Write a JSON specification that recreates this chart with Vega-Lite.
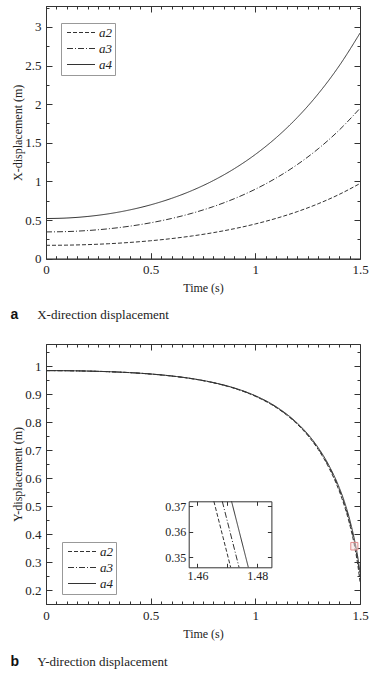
{
  "$schema": "https://vega.github.io/schema/vega-lite/v6.json",
  "autosize": {"type": "pad"},
  "padding": {"left": 9, "top": 1, "right": 5, "bottom": 5},
  "background": "white",
  "datasets": {
    "xdisp": [
      {"t": 0.0, "v": 0.1733, "s": "a2"}, {"t": 0.1, "v": 0.1755, "s": "a2"}, {"t": 0.2, "v": 0.1823, "s": "a2"}, {"t": 0.3, "v": 0.1938, "s": "a2"},
      {"t": 0.4, "v": 0.2104, "s": "a2"}, {"t": 0.5, "v": 0.2323, "s": "a2"}, {"t": 0.6, "v": 0.2603, "s": "a2"}, {"t": 0.7, "v": 0.2950, "s": "a2"},
      {"t": 0.8, "v": 0.3374, "s": "a2"}, {"t": 0.9, "v": 0.3885, "s": "a2"}, {"t": 1.0, "v": 0.4496, "s": "a2"}, {"t": 1.1, "v": 0.5224, "s": "a2"},
      {"t": 1.2, "v": 0.6086, "s": "a2"}, {"t": 1.3, "v": 0.7107, "s": "a2"}, {"t": 1.4, "v": 0.8311, "s": "a2"}, {"t": 1.5, "v": 0.9730, "s": "a2"},
      {"t": 0.0, "v": 0.3466, "s": "a3"}, {"t": 0.1, "v": 0.3510, "s": "a3"}, {"t": 0.2, "v": 0.3646, "s": "a3"}, {"t": 0.3, "v": 0.3876, "s": "a3"},
      {"t": 0.4, "v": 0.4208, "s": "a3"}, {"t": 0.5, "v": 0.4646, "s": "a3"}, {"t": 0.6, "v": 0.5206, "s": "a3"}, {"t": 0.7, "v": 0.5900, "s": "a3"},
      {"t": 0.8, "v": 0.6748, "s": "a3"}, {"t": 0.9, "v": 0.7770, "s": "a3"}, {"t": 1.0, "v": 0.8992, "s": "a3"}, {"t": 1.1, "v": 1.0448, "s": "a3"},
      {"t": 1.2, "v": 1.2172, "s": "a3"}, {"t": 1.3, "v": 1.4214, "s": "a3"}, {"t": 1.4, "v": 1.6622, "s": "a3"}, {"t": 1.5, "v": 1.9460, "s": "a3"},
      {"t": 0.0, "v": 0.5199, "s": "a4"}, {"t": 0.1, "v": 0.5265, "s": "a4"}, {"t": 0.2, "v": 0.5469, "s": "a4"}, {"t": 0.3, "v": 0.5814, "s": "a4"},
      {"t": 0.4, "v": 0.6312, "s": "a4"}, {"t": 0.5, "v": 0.6969, "s": "a4"}, {"t": 0.6, "v": 0.7809, "s": "a4"}, {"t": 0.7, "v": 0.8850, "s": "a4"},
      {"t": 0.8, "v": 1.0122, "s": "a4"}, {"t": 0.9, "v": 1.1655, "s": "a4"}, {"t": 1.0, "v": 1.3488, "s": "a4"}, {"t": 1.1, "v": 1.5672, "s": "a4"},
      {"t": 1.2, "v": 1.8258, "s": "a4"}, {"t": 1.3, "v": 2.1321, "s": "a4"}, {"t": 1.4, "v": 2.4933, "s": "a4"}, {"t": 1.5, "v": 2.9190, "s": "a4"}
    ],
    "ydisp": [
      {"t": 0.0, "v": 0.9849, "s": "a2"}, {"t": 0.1, "v": 0.9845, "s": "a2"}, {"t": 0.2, "v": 0.9832, "s": "a2"}, {"t": 0.3, "v": 0.9810, "s": "a2"},
      {"t": 0.4, "v": 0.9776, "s": "a2"}, {"t": 0.5, "v": 0.9726, "s": "a2"}, {"t": 0.6, "v": 0.9655, "s": "a2"}, {"t": 0.7, "v": 0.9555, "s": "a2"},
      {"t": 0.8, "v": 0.9414, "s": "a2"}, {"t": 0.9, "v": 0.9215, "s": "a2"}, {"t": 1.0, "v": 0.8932, "s": "a2"}, {"t": 1.1, "v": 0.8527, "s": "a2"},
      {"t": 1.2, "v": 0.7935, "s": "a2"}, {"t": 1.25, "v": 0.7535, "s": "a2"}, {"t": 1.3, "v": 0.7035, "s": "a2"}, {"t": 1.35, "v": 0.6399, "s": "a2"},
      {"t": 1.4, "v": 0.5561, "s": "a2"}, {"t": 1.425, "v": 0.5028, "s": "a2"}, {"t": 1.45, "v": 0.4377, "s": "a2"}, {"t": 1.475, "v": 0.3538, "s": "a2"},
      {"t": 1.49, "v": 0.2874, "s": "a2"}, {"t": 1.5, "v": 0.2308, "s": "a2"},
      {"t": 0.0, "v": 0.9849, "s": "a3"}, {"t": 0.1, "v": 0.9845, "s": "a3"}, {"t": 0.2, "v": 0.9832, "s": "a3"}, {"t": 0.3, "v": 0.9810, "s": "a3"},
      {"t": 0.4, "v": 0.9777, "s": "a3"}, {"t": 0.5, "v": 0.9727, "s": "a3"}, {"t": 0.6, "v": 0.9657, "s": "a3"}, {"t": 0.7, "v": 0.9558, "s": "a3"},
      {"t": 0.8, "v": 0.9418, "s": "a3"}, {"t": 0.9, "v": 0.9222, "s": "a3"}, {"t": 1.0, "v": 0.8943, "s": "a3"}, {"t": 1.1, "v": 0.8542, "s": "a3"},
      {"t": 1.2, "v": 0.7955, "s": "a3"}, {"t": 1.25, "v": 0.7562, "s": "a3"}, {"t": 1.3, "v": 0.7068, "s": "a3"}, {"t": 1.35, "v": 0.6443, "s": "a3"},
      {"t": 1.4, "v": 0.5625, "s": "a3"}, {"t": 1.425, "v": 0.5105, "s": "a3"}, {"t": 1.45, "v": 0.4467, "s": "a3"}, {"t": 1.475, "v": 0.3651, "s": "a3"},
      {"t": 1.49, "v": 0.3021, "s": "a3"}, {"t": 1.5, "v": 0.2478, "s": "a3"},
      {"t": 0.0, "v": 0.9849, "s": "a4"}, {"t": 0.1, "v": 0.9845, "s": "a4"}, {"t": 0.2, "v": 0.9833, "s": "a4"}, {"t": 0.3, "v": 0.9811, "s": "a4"},
      {"t": 0.4, "v": 0.9778, "s": "a4"}, {"t": 0.5, "v": 0.9729, "s": "a4"}, {"t": 0.6, "v": 0.9659, "s": "a4"}, {"t": 0.7, "v": 0.9561, "s": "a4"},
      {"t": 0.8, "v": 0.9422, "s": "a4"}, {"t": 0.9, "v": 0.9228, "s": "a4"}, {"t": 1.0, "v": 0.8952, "s": "a4"}, {"t": 1.1, "v": 0.8556, "s": "a4"},
      {"t": 1.2, "v": 0.7976, "s": "a4"}, {"t": 1.25, "v": 0.7587, "s": "a4"}, {"t": 1.3, "v": 0.7099, "s": "a4"}, {"t": 1.35, "v": 0.6484, "s": "a4"},
      {"t": 1.4, "v": 0.5685, "s": "a4"}, {"t": 1.425, "v": 0.5178, "s": "a4"}, {"t": 1.45, "v": 0.4550, "s": "a4"}, {"t": 1.475, "v": 0.3757, "s": "a4"},
      {"t": 1.49, "v": 0.3159, "s": "a4"}, {"t": 1.5, "v": 0.2640, "s": "a4"}
    ],
    "inset": [
      {"t": 1.4655, "v": 0.372, "s": "a2"}, {"t": 1.4711, "v": 0.346, "s": "a2"},
      {"t": 1.4683, "v": 0.372, "s": "a3"}, {"t": 1.4739, "v": 0.346, "s": "a3"},
      {"t": 1.4714, "v": 0.372, "s": "a4"}, {"t": 1.4770, "v": 0.346, "s": "a4"}
    ],
    "box": [{"x1": 1.456, "x2": 1.490, "y1": 0.344, "y2": 0.371}]
  },
  "vconcat": [
    {
      "width": 314,
      "height": 252.7,
      "resolve": {"axis": {"x": "independent", "y": "independent"}},
      "layer": [
        {
          "data": {"name": "xdisp"},
          "mark": {"type": "line", "color": "#333", "strokeWidth": 1, "interpolate": "monotone"},
          "encoding": {
            "x": {"field": "t", "type": "quantitative",
              "scale": {"domain": [0, 1.5], "nice": false, "zero": false},
              "axis": {"orient": "bottom", "title": "Time (s)", "titlePadding": 3, "format": "~g",
                "values": [0,0.05,0.1,0.15,0.2,0.25,0.3,0.35,0.4,0.45,0.5,0.55,0.6,0.65,0.7,0.75,0.8,0.85,0.9,0.95,1,1.05,1.1,1.15,1.2,1.25,1.3,1.35,1.4,1.45,1.5],
                "labelExpr": "abs(datum.value*2-round(datum.value*2))<1e-6 ? datum.label : ''",
                "tickSize": {"condition": {"test": "abs(datum.value*2-round(datum.value*2))<1e-6", "value": -6}, "value": -3},
                "labelPadding": 11, "labelOverlap": false}},
            "y": {"field": "v", "type": "quantitative",
              "scale": {"domain": [0, 3.27], "nice": false, "zero": false},
              "axis": {"orient": "left", "title": "X-displacement (m)", "titlePadding": 0, "format": "~g",
                "values": [0,0.25,0.5,0.75,1,1.25,1.5,1.75,2,2.25,2.5,2.75,3,3.25],
                "labelExpr": "abs(datum.value*2-round(datum.value*2))<1e-6 ? datum.label : ''",
                "tickSize": {"condition": {"test": "abs(datum.value*2-round(datum.value*2))<1e-6", "value": -6}, "value": -3},
                "labelPadding": 11, "labelOverlap": false}},
            "strokeDash": {"field": "s", "type": "nominal",
              "scale": {"domain": ["a2", "a3", "a4"], "range": [[4, 2], [6, 2, 1, 2], [1, 0]]},
              "legend": {"title": null, "orient": "none", "legendX": 15, "legendY": 17,
                "symbolType": "M-4,0H4", "symbolSize": 49, "symbolOffset": 10.5, "symbolStrokeWidth": 1, "symbolStrokeColor": "#333",
                "labelFont": "Liberation Serif", "labelFontStyle": "italic", "labelFontSize": 13, "labelColor": "#222",
                "strokeColor": "#999", "fillColor": "white", "padding": 3, "rowPadding": 2, "labelOffset": 11.5}}
          }
        },
        {
          "data": {"name": "xdisp"},
          "mark": {"type": "point", "opacity": 0},
          "encoding": {
            "x": {"field": "t", "type": "quantitative",
              "scale": {"domain": [0, 1.5], "nice": false, "zero": false},
              "axis": {"orient": "top", "labels": false, "domain": false,
                "title": "a", "titleFont": "Liberation Sans", "titleFontWeight": "bold", "titleFontSize": 14, "titleColor": "#111",
                "titleAngle": 0, "titleAlign": "left", "titleBaseline": "alphabetic", "titleX": -36, "titleY": 312,
                "values": [0,0.05,0.1,0.15,0.2,0.25,0.3,0.35,0.4,0.45,0.5,0.55,0.6,0.65,0.7,0.75,0.8,0.85,0.9,0.95,1,1.05,1.1,1.15,1.2,1.25,1.3,1.35,1.4,1.45,1.5],
                "tickSize": {"condition": {"test": "abs(datum.value*2-round(datum.value*2))<1e-6", "value": -6}, "value": -3}}},
            "y": {"field": "v", "type": "quantitative",
              "scale": {"domain": [0, 3.27], "nice": false, "zero": false},
              "axis": {"orient": "right", "labels": false, "domain": false,
                "title": "X-direction displacement", "titleFont": "Liberation Serif", "titleFontWeight": "normal", "titleFontSize": 13, "titleColor": "#222",
                "titleAngle": 0, "titleAlign": "left", "titleBaseline": "alphabetic", "titleX": -323.3, "titleY": 312,
                "values": [0,0.25,0.5,0.75,1,1.25,1.5,1.75,2,2.25,2.5,2.75,3,3.25],
                "tickSize": {"condition": {"test": "abs(datum.value*2-round(datum.value*2))<1e-6", "value": -6}, "value": -3}}}
          }
        }
      ]
    },
    {
      "width": 314,
      "height": 260,
      "resolve": {"scale": {"x": "independent", "y": "independent"}, "axis": {"x": "independent", "y": "independent"}},
      "layer": [
        {
          "data": {"name": "ydisp"},
          "mark": {"type": "line", "color": "#333", "strokeWidth": 1, "interpolate": "monotone"},
          "encoding": {
            "x": {"field": "t", "type": "quantitative",
              "scale": {"domain": [0, 1.5], "nice": false, "zero": false},
              "axis": {"orient": "bottom", "title": "Time (s)", "titlePadding": 3, "format": "~g",
                "values": [0,0.05,0.1,0.15,0.2,0.25,0.3,0.35,0.4,0.45,0.5,0.55,0.6,0.65,0.7,0.75,0.8,0.85,0.9,0.95,1,1.05,1.1,1.15,1.2,1.25,1.3,1.35,1.4,1.45,1.5],
                "labelExpr": "abs(datum.value*2-round(datum.value*2))<1e-6 ? datum.label : ''",
                "tickSize": {"condition": {"test": "abs(datum.value*2-round(datum.value*2))<1e-6", "value": -6}, "value": -3},
                "labelPadding": 11, "labelOverlap": false}},
            "y": {"field": "v", "type": "quantitative",
              "scale": {"domain": [0.151, 1.08], "nice": false, "zero": false},
              "axis": {"orient": "left", "title": "Y-displacement (m)", "titlePadding": 0, "format": "~g",
                "values": [0.15,0.2,0.25,0.3,0.35,0.4,0.45,0.5,0.55,0.6,0.65,0.7,0.75,0.8,0.85,0.9,0.95,1,1.05],
                "labelExpr": "abs(datum.value*10-round(datum.value*10))<1e-6 ? datum.label : ''",
                "tickSize": {"condition": {"test": "abs(datum.value*10-round(datum.value*10))<1e-6", "value": -6}, "value": -3},
                "labelPadding": 11, "labelOverlap": false}},
            "strokeDash": {"field": "s", "type": "nominal",
              "scale": {"domain": ["a2", "a3", "a4"], "range": [[4, 2], [6, 2, 1, 2], [1, 0]]},
              "legend": {"title": null, "orient": "none", "legendX": 16, "legendY": 198,
                "symbolType": "M-4,0H4", "symbolSize": 49, "symbolOffset": 10.5, "symbolStrokeWidth": 1, "symbolStrokeColor": "#333",
                "labelFont": "Liberation Serif", "labelFontStyle": "italic", "labelFontSize": 13, "labelColor": "#222",
                "strokeColor": "#999", "fillColor": "white", "padding": 3, "rowPadding": 2, "labelOffset": 11.5}}
          }
        },
        {
          "data": {"name": "box"},
          "mark": {"type": "rect", "fill": "#f6dede", "fillOpacity": 0.5, "stroke": "#e08c8c", "strokeWidth": 1},
          "encoding": {
            "x": {"field": "x1", "type": "quantitative",
              "scale": {"domain": [0, 1.5], "nice": false, "zero": false},
              "axis": {"orient": "top", "labels": false, "domain": false,
                "title": "b", "titleFont": "Liberation Sans", "titleFontWeight": "bold", "titleFontSize": 14, "titleColor": "#111",
                "titleAngle": 0, "titleAlign": "left", "titleBaseline": "alphabetic", "titleX": -36, "titleY": 321,
                "values": [0,0.05,0.1,0.15,0.2,0.25,0.3,0.35,0.4,0.45,0.5,0.55,0.6,0.65,0.7,0.75,0.8,0.85,0.9,0.95,1,1.05,1.1,1.15,1.2,1.25,1.3,1.35,1.4,1.45,1.5],
                "tickSize": {"condition": {"test": "abs(datum.value*2-round(datum.value*2))<1e-6", "value": -6}, "value": -3}}},
            "x2": {"field": "x2"},
            "y": {"field": "y1", "type": "quantitative",
              "scale": {"domain": [0.151, 1.08], "nice": false, "zero": false},
              "axis": {"orient": "right", "labels": false, "domain": false,
                "title": "Y-direction displacement", "titleFont": "Liberation Serif", "titleFontWeight": "normal", "titleFontSize": 13, "titleColor": "#222",
                "titleAngle": 0, "titleAlign": "left", "titleBaseline": "alphabetic", "titleX": -323.3, "titleY": 321,
                "values": [0.15,0.2,0.25,0.3,0.35,0.4,0.45,0.5,0.55,0.6,0.65,0.7,0.75,0.8,0.85,0.9,0.95,1,1.05],
                "tickSize": {"condition": {"test": "abs(datum.value*10-round(datum.value*10))<1e-6", "value": -6}, "value": -3}}},
            "y2": {"field": "y2"}
          }
        },
        {
          "data": {"name": "inset"},
          "mark": {"type": "line", "color": "#333", "strokeWidth": 1},
          "encoding": {
            "x": {"field": "t", "type": "quantitative",
              "scale": {"domain": [1.4571, 1.4847], "range": [142.7, 225.4], "nice": false, "zero": false},
              "axis": {"orient": "bottom", "offset": -36.7, "title": null, "format": ".2f",
                "values": [1.46, 1.47, 1.48],
                "labelExpr": "abs(datum.value-1.47)<1e-6 ? '' : datum.label",
                "tickSize": -4, "labelPadding": 7, "labelFontSize": 12, "labelOverlap": false}},
            "y": {"field": "v", "type": "quantitative",
              "scale": {"domain": [0.346, 0.372], "range": [223.3, 157.3], "nice": false, "zero": false},
              "axis": {"orient": "left", "offset": -142.7, "title": null, "format": ".2f",
                "values": [0.35, 0.36, 0.37],
                "tickSize": -4, "labelPadding": 7, "labelFontSize": 12, "labelOverlap": false}},
            "strokeDash": {"field": "s", "type": "nominal",
              "scale": {"domain": ["a2", "a3", "a4"], "range": [[4, 2], [6, 2, 1, 2], [1, 0]]}}
          }
        },
        {
          "data": {"name": "inset"},
          "mark": {"type": "point", "opacity": 0},
          "encoding": {
            "x": {"field": "t", "type": "quantitative",
              "scale": {"domain": [1.4571, 1.4847], "range": [142.7, 225.4], "nice": false, "zero": false},
              "axis": {"orient": "top", "offset": -157.3, "title": null, "labels": false,
                "values": [1.46, 1.47, 1.48], "tickSize": -4}},
            "y": {"field": "v", "type": "quantitative",
              "scale": {"domain": [0.346, 0.372], "range": [223.3, 157.3], "nice": false, "zero": false},
              "axis": {"orient": "right", "offset": -88.6, "title": null, "labels": false,
                "values": [0.35, 0.36, 0.37], "tickSize": -4}}
          }
        }
      ]
    }
  ],
  "spacing": 85,
  "bounds": "flush",
  "resolve": {"scale": {"strokeDash": "independent"}, "legend": {"strokeDash": "independent"}},
  "config": {
    "font": "Liberation Serif",
    "view": {"stroke": "#333", "strokeWidth": 1},
    "axis": {"labelFont": "Liberation Serif", "titleFont": "Liberation Serif", "labelFontSize": 13, "titleFontSize": 12,
      "titleFontWeight": "normal", "labelColor": "#222", "titleColor": "#222", "tickColor": "#333", "domainColor": "#333",
      "grid": false, "labelFlush": false}
  }
}
